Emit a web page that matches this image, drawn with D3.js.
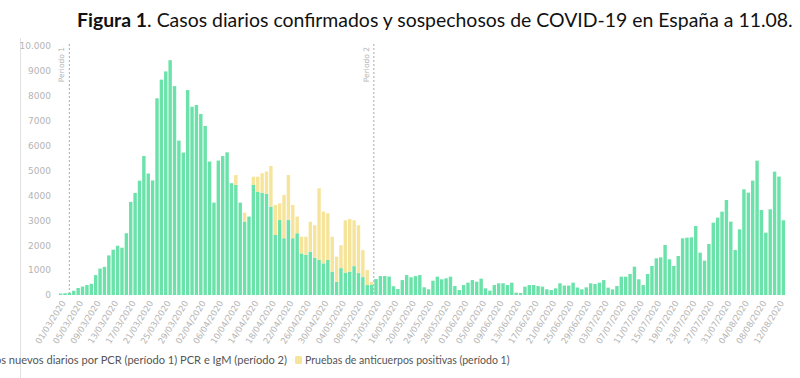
<!DOCTYPE html>
<html>
<head>
<meta charset="utf-8">
<script src="https://cdn.jsdelivr.net/npm/d3@7"></script>
<style>
  body { margin: 0; background: #fff; }
  svg { display: block; }
</style>
</head>
<body>
<svg id="chart" width="800" height="378"></svg>
<script>
// Daily confirmed (PCR / PCR+IgM) cases and positive antibody tests, Spain, 29/02 - 12/08/2020

// PCR (period 1) / PCR + IgM (period 2) cases, one value per day
const pcrFeb = [60];
const pcrMar = [70, 90, 170, 280, 340, 400, 450, 800, 1060, 1130,
                1590, 1820, 1980, 1900, 2480, 3740, 4100, 4590, 5580, 4880,
                4600, 7900, 8650, 8980, 9430, 8390, 6200, 5720, 8230, 7560, 7630];
const pcrApr = [7270, 6790, 5360, 3710, 5400, 5580, 5730, 4490, 4420, 3710,
                2950, 3150, 4420, 4150, 4110, 4060, 3550, 2410, 3010, 2280,
                3010, 2280, 2480, 1670, 1610, 1740, 1500, 1410, 1270, 1410];
const pcrMay = [940, 530, 1080, 900, 940, 1160, 880, 720, 400, 420,
                640, 760, 760, 740, 350, 240, 600, 800, 710, 760,
                800, 310, 230, 575, 736, 630, 670, 736, 360, 200, 400];
const pcrJun = [495, 600, 535, 656, 268, 174, 400, 470, 470, 400,
                495, 94, 80, 335, 400, 400, 360, 335, 230, 200,
                268, 470, 380, 380, 495, 300, 228, 308, 469, 442];
const pcrJul = [495, 600, 295, 228, 360, 736, 736, 843, 1138, 630,
                400, 843, 1165, 1473, 1513, 2008, 1433, 1165, 1566, 2276,
                2303, 2316, 2772, 1700, 1380, 2049, 2906, 3106, 3348, 3816, 2946];
const pcrAug = [1808, 2638, 4245, 4111, 4593, 5396, 3415, 2504, 3441, 4954, 4754, 3000];

// positive antibody tests (period 1), stacked on top of the PCR bars
const antiApr = [0, 0, 0, 0, 0, 0, 0, 0, 400, 0,
                 360, 0, 330, 600, 780, 900, 1630, 1205, 670, 1740,
                 1810, 1335, 670, 670, 730, 1200, 1300, 2875, 2080, 1870];
const antiMay = [1400, 1010, 920, 2100, 2110, 1840, 1920, 1080, 600, 100];

const yTicks = [0, 1000, 2000, 3000, 4000, 5000, 6000, 7000, 8000, 9000, 10000];
const yTickLabels = ["0", "1000", "2000", "3000", "4000", "5000", "6000", "7000", "8000", "9000", "10.000"];

const titleBold = "Figura 1";
const titleRest = ". Casos diarios confirmados y sospechosos de COVID-19 en España a 11.08.";
const legendPcr = "Casos nuevos diarios por PCR (período 1) PCR e IgM (período 2)";
const legendAnti = "Pruebas de anticuerpos positivas (período 1)";
const periods = [{ label: "Periodo 1", date: "02/03/2020", edge: false },
                 { label: "Periodo 2", date: "11/05/2020", edge: true }];

const green = "#6ce2ab", yellow = "#f6e49b", gray = "#b4b4b4";

// build the table
const fmt = d3.timeFormat("%d/%m/%Y");
const days = d3.timeDay.range(new Date(2020, 1, 29), new Date(2020, 7, 13)).map(fmt);
const pcr = [].concat(pcrFeb, pcrMar, pcrApr, pcrMay, pcrJun, pcrJul, pcrAug);
const anti = new Array(1 + pcrMar.length).fill(0).concat(antiApr, antiMay);
const data = days.map((d, i) => ({ day: d, pcr: pcr[i], anti: anti[i] || 0 }));

const svg = d3.select("#chart");

const x = d3.scaleBand()
  .domain(days)
  .range([58.5, 785.5])
  .paddingInner(0.22)
  .paddingOuter(0.1);

const y = d3.scaleLinear()
  .domain([0, 10000])
  .range([295, 46]);

// faint frame line at the left
svg.append("line")
  .attr("x1", 20.5).attr("x2", 20.5)
  .attr("y1", 38).attr("y2", 378)
  .attr("stroke", "#e2e2e2");

// title
const title = svg.append("text")
  .attr("x", 77).attr("y", 27)
  .attr("font-family", "Lato, 'Open Sans', sans-serif")
  .attr("font-size", 16)
  .attr("fill", "#111");
title.append("tspan").attr("font-weight", "bold").text(titleBold);
title.append("tspan").text(titleRest);
const tw = title.node().getComputedTextLength();
title.attr("font-size", 16 * 716 / tw);

// bars
const bars = svg.append("g");
bars.selectAll("rect.pcr")
  .data(data)
  .join("rect")
    .attr("class", "pcr")
    .attr("x", d => x(d.day))
    .attr("width", x.bandwidth())
    .attr("y", d => y(d.pcr))
    .attr("height", d => y(0) - y(d.pcr))
    .attr("fill", green);

bars.selectAll("rect.anti")
  .data(data.filter(d => d.anti > 0))
  .join("rect")
    .attr("class", "anti")
    .attr("x", d => x(d.day))
    .attr("width", x.bandwidth())
    .attr("y", d => y(d.pcr + d.anti))
    .attr("height", d => y(d.pcr) - y(d.pcr + d.anti))
    .attr("fill", yellow);

// period markers
periods.forEach(p => {
  const px = p.edge ? x(p.date) - x.step() * x.paddingInner() / 2 : x(p.date) + x.bandwidth() / 2;
  svg.append("line")
    .attr("x1", px).attr("x2", px)
    .attr("y1", 44).attr("y2", 295)
    .attr("stroke", "#b8b8b8")
    .attr("stroke-width", 1.2)
    .attr("stroke-dasharray", "2,2");
  svg.append("text")
    .attr("transform", `translate(${px - 5},47) rotate(-90)`)
    .attr("text-anchor", "end")
    .attr("font-family", "'DejaVu Sans', sans-serif")
    .attr("font-size", 7.5)
    .attr("fill", gray)
    .text(p.label);
});

// y axis
const yAxis = svg.append("g")
  .attr("transform", "translate(51,0)")
  .call(d3.axisLeft(y).tickValues(yTicks).tickSize(0).tickPadding(0)
    .tickFormat((d, i) => yTickLabels[i]));
yAxis.select(".domain").remove();
yAxis.selectAll("text")
  .attr("font-family", "'DejaVu Sans', sans-serif")
  .attr("font-size", 9)
  .attr("fill", gray);

// x axis, a label every 4 days from 01/03
const xTicks = days.filter((d, i) => i >= 1 && (i - 1) % 4 === 0);
const xAxis = svg.append("g")
  .attr("transform", "translate(0,295)")
  .call(d3.axisBottom(x).tickValues(xTicks).tickSize(0));
xAxis.select(".domain").remove();
xAxis.selectAll("text")
  .attr("x", 0).attr("y", 0).attr("dy", 0)
  .attr("text-anchor", "end")
  .attr("transform", "translate(1,8) rotate(-58)")
  .attr("font-family", "'DejaVu Sans', sans-serif")
  .attr("font-size", 8.5)
  .attr("fill", gray);

// legend (the first item runs past the left edge of the image, as in the original)
const legY = 364;
const legFont = "Lato, 'Open Sans', sans-serif";
const legAnti = svg.append("text")
  .attr("x", 305).attr("y", legY)
  .attr("font-family", legFont)
  .attr("font-size", 11)
  .attr("fill", "#555")
  .text(legendAnti);
legAnti.attr("font-size", 11 * 205 / legAnti.node().getComputedTextLength());
svg.append("rect")
  .attr("x", 295).attr("y", legY - 8)
  .attr("width", 7).attr("height", 8)
  .attr("rx", 1.5)
  .attr("fill", yellow);

// size the first item so that its visible tail ("s nuevos ... (período 2)") spans 0-286
const probe = svg.append("text")
  .attr("font-family", legFont).attr("font-size", 11)
  .text(legendPcr.slice(legendPcr.indexOf("s nuevos")));
const pcrSize = 11 * 286 / probe.node().getComputedTextLength();
probe.remove();
svg.append("text")
  .attr("x", 287).attr("y", legY)
  .attr("text-anchor", "end")
  .attr("font-family", legFont)
  .attr("font-size", pcrSize)
  .attr("fill", "#555")
  .text(legendPcr);
</script>
</body>
</html>
